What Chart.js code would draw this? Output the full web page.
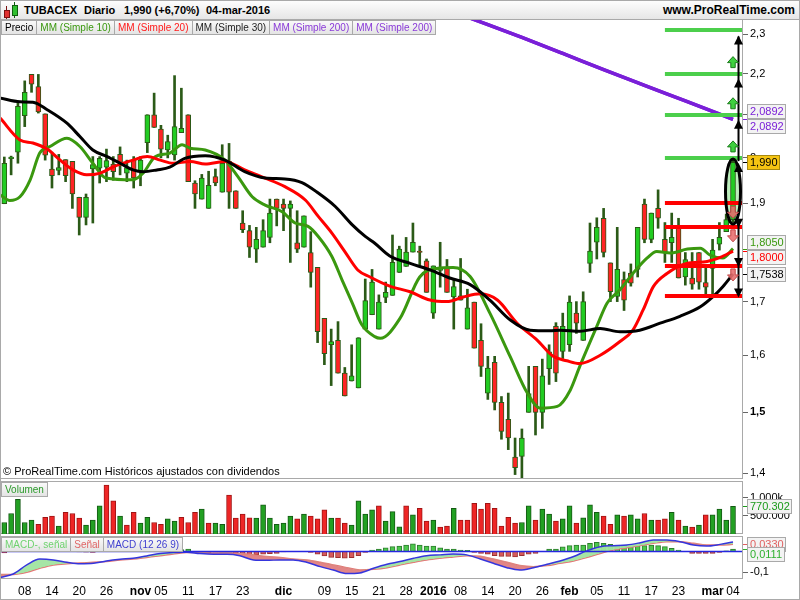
<!DOCTYPE html>
<html lang="es">
<head>
<meta charset="utf-8">
<title>TUBACEX Diario</title>
<script src="https://cdn.jsdelivr.net/npm/chart.js@4.4.1/dist/chart.umd.min.js"></script>
<style>
  html, body { margin: 0; padding: 0; background: #fff; }
  #root { position: relative; width: 800px; height: 600px; overflow: hidden;
          font-family: "Liberation Sans", Arial, sans-serif; color: #000; }
  .frame { position: absolute; box-sizing: border-box; border: 1px solid #a9a9a9; }
  canvas { position: absolute; left: 0; }
  .hdr { position: absolute; left: 0; top: 0; width: 800px; height: 20px; box-sizing: border-box;
         border: 1px solid #a9a9a9; background: linear-gradient(#fdfdfd, #e6e6e6); z-index: 3; }
  .hdr span { position: absolute; top: 3px; font-weight: bold; font-size: 11px; white-space: nowrap; }
  .hdr .site { font-size: 12px; top: 2px; right: 4px; }
  .ico { position: absolute; box-sizing: border-box; }
  .tags { position: absolute; display: flex; z-index: 3; }
  .tag { height: 15px; line-height: 14px; box-sizing: border-box; border: 1px solid #a9a9a9;
         background: linear-gradient(#f9f9f9, #e4e4e4); padding: 0 3px; margin-right: -1px;
         white-space: nowrap; font-size: 10px; }
  .note { position: absolute; font-size: 11px; white-space: nowrap; z-index: 3; }
</style>
</head>
<body>
<div id="root">
  <div class="frame" style="left:0;top:0;width:800px;height:600px;"></div>
  <div class="frame" style="left:0;top:19px;width:743px;height:460px;"></div>
  <div class="frame" style="left:0;top:481px;width:743px;height:53px;"></div>
  <div class="frame" style="left:0;top:536px;width:743px;height:43px;"></div>

  <canvas id="cPrice" width="800" height="458" style="top:20px"></canvas>
  <canvas id="cVol" width="800" height="52" style="top:482px"></canvas>
  <canvas id="cMacd" width="800" height="63" style="top:537px"></canvas>

  <div class="hdr">
    <div class="ico" style="left:5px;top:5px;width:1px;height:13px;background:#7a1010"></div>
    <div class="ico" style="left:3px;top:9px;width:6px;height:8px;background:#e03030;border:1px solid #7a1010"></div>
    <div class="ico" style="left:13px;top:1px;width:1px;height:16px;background:#0f5f0f"></div>
    <div class="ico" style="left:11px;top:4px;width:6px;height:11px;background:#30c030;border:1px solid #0f5f0f"></div>
    <span style="left:23px">TUBACEX</span>
    <span style="left:83px">Diario</span>
    <span id="quote" style="left:123px"></span>
    <span style="left:205px">04-mar-2016</span>
    <span class="site">www.ProRealTime.com</span>
  </div>

  <div class="tags" style="left:1px;top:20px;">
    <span class="tag">Precio</span>
    <span class="tag" style="color:#3a980f">MM (Simple 10)</span>
    <span class="tag" style="color:#ff1a1a">MM (Simple 20)</span>
    <span class="tag" style="color:#222">MM (Simple 30)</span>
    <span class="tag" style="color:#8a3ad8">MM (Simple 200)</span>
    <span class="tag" style="color:#8a3ad8">MM (Simple 200)</span>
  </div>
  <div class="note" style="left:3px;top:465px;">© ProRealTime.com Históricos ajustados con dividendos</div>
  <div class="tags" style="left:1px;top:482px;"><span class="tag" style="color:#2b9a2b">Volumen</span></div>
  <div class="tags" style="left:1px;top:537px;">
    <span class="tag" style="color:#6fd36f">MACD-, señal</span>
    <span class="tag" style="color:#e06666">Señal</span>
    <span class="tag" style="color:#4040d0">MACD (12 26 9)</span>
  </div>
</div>

<script>
// ---- TUBACEX, daily session data 5 Oct 2015 – 4 Mar 2016 (108 sessions) ----
const opens = [
  1.899,1.998,2.013,2.098,2.198,2.168,2.102,1.975,1.972,1.996,
  1.992,1.913,1.870,1.975,1.977,1.979,1.986,2.008,1.966,1.995,
  1.969,2.035,2.100,2.066,2.018,2.007,2.058,2.100,1.944,1.909,
  1.889,1.958,1.924,1.992,1.927,1.858,1.842,1.804,1.808,1.828,
  1.909,1.898,1.889,1.817,1.808,1.797,1.767,1.668,1.619,1.627,
  1.568,1.554,1.542,1.648,1.675,1.648,1.708,1.712,1.757,1.769,
  1.798,1.800,1.780,1.678,1.761,1.767,1.709,1.711,1.648,1.699,
  1.627,1.533,1.587,1.517,1.488,1.426,1.427,1.500,1.580,1.500,
  1.576,1.653,1.607,1.619,1.678,1.627,1.775,1.818,1.868,1.776,
  1.710,1.743,1.756,1.763,1.898,1.824,1.889,1.824,1.817,1.849,
  1.748,1.746,1.797,1.737,1.765,1.814,1.840,1.865
];
const highs = [
  2.002,2.004,2.130,2.182,2.198,2.198,2.102,2.013,2.008,1.996,
  1.992,1.913,1.920,2.003,2.003,2.020,2.003,2.025,1.995,2.003,
  2.003,2.100,2.152,2.075,2.052,2.195,2.164,2.100,1.949,1.963,
  1.970,1.975,2.030,2.033,1.927,1.884,1.853,1.849,1.865,1.909,
  1.909,1.909,1.905,1.884,1.873,1.840,1.767,1.668,1.648,1.662,
  1.578,1.619,1.632,1.744,1.763,1.713,1.738,1.833,1.810,1.828,
  1.858,1.810,1.784,1.770,1.818,1.783,1.745,1.785,1.724,1.699,
  1.658,1.598,1.598,1.527,1.533,1.457,1.472,1.580,1.580,1.593,
  1.619,1.660,1.678,1.711,1.700,1.719,1.858,1.869,1.889,1.776,
  1.849,1.758,1.774,1.849,1.909,1.879,1.929,1.859,1.879,1.868,
  1.797,1.797,1.797,1.769,1.824,1.859,1.877,1.995
];
const lows = [
  1.899,1.962,1.988,2.072,2.154,2.104,1.995,1.933,1.962,1.947,
  1.889,1.833,1.854,1.858,1.944,1.947,1.950,1.962,1.947,1.933,
  1.938,2.012,2.070,2.000,2.000,1.995,2.058,1.947,1.889,1.909,
  1.889,1.938,1.924,1.889,1.889,1.838,1.787,1.777,1.808,1.817,
  1.852,1.842,1.777,1.797,1.808,1.728,1.623,1.583,1.546,1.568,
  1.528,1.554,1.542,1.648,1.675,1.648,1.698,1.712,1.757,1.769,
  1.798,1.771,1.718,1.668,1.728,1.718,1.648,1.703,1.648,1.613,
  1.562,1.522,1.504,1.455,1.438,1.398,1.390,1.500,1.462,1.473,
  1.548,1.553,1.594,1.607,1.640,1.627,1.757,1.784,1.788,1.700,
  1.700,1.683,1.730,1.748,1.817,1.817,1.847,1.777,1.777,1.746,
  1.732,1.724,1.724,1.709,1.709,1.802,1.840,1.860
];
const closes = [
  1.988,2.002,2.120,2.154,2.174,2.107,2.006,1.960,1.978,1.960,
  1.920,1.870,1.913,1.985,1.999,1.994,1.969,1.990,1.978,1.955,
  1.995,2.100,2.070,2.020,2.037,2.072,2.068,1.947,1.920,1.955,
  1.939,1.944,1.988,1.924,1.889,1.844,1.808,1.824,1.842,1.879,
  1.889,1.889,1.898,1.804,1.873,1.757,1.643,1.603,1.625,1.568,
  1.528,1.563,1.632,1.702,1.738,1.699,1.718,1.777,1.804,1.798,
  1.818,1.797,1.718,1.770,1.765,1.718,1.729,1.703,1.688,1.613,
  1.580,1.577,1.517,1.468,1.457,1.409,1.457,1.532,1.500,1.563,
  1.606,1.568,1.653,1.699,1.659,1.700,1.800,1.849,1.797,1.719,
  1.763,1.703,1.736,1.849,1.824,1.879,1.868,1.797,1.828,1.746,
  1.783,1.734,1.738,1.728,1.802,1.828,1.865,1.990
];
const volumes = [
  320000,570000,960000,320000,390000,270000,460000,500000,220000,600000,
  570000,440000,250000,390000,780000,1360000,920000,500000,250000,600000,
  300000,460000,320000,270000,420000,360000,460000,320000,600000,690000,
  300000,300000,270000,1080000,440000,550000,450000,440000,810000,440000,
  270000,300000,500000,420000,550000,500000,420000,670000,440000,440000,
  300000,250000,920000,550000,670000,780000,360000,620000,200000,780000,
  530000,710000,360000,390000,190000,220000,710000,390000,390000,850000,
  690000,850000,710000,220000,460000,300000,320000,780000,390000,690000,
  550000,360000,420000,780000,300000,450000,810000,600000,500000,270000,
  530000,500000,530000,420000,570000,390000,390000,420000,600000,390000,
  220000,190000,250000,530000,530000,690000,390000,770302
];

// Simple moving averages, sampled along the session axis
const ma10Idx = [-0.6,0.8,2.3,3.8,5.2,6.7,9.2,11.1,13.0,14.9,18.9,20.4,22.1,24.3,26.1,27.3,29.5,32.4,34.3,36.4,
  38.3,40.8,42.7,44.6,46.1,48.1,49.6,51.1,52.5,54.4,55.2,58.1,61.0,63.5,65.9,68.4,71.3,74.3,76.8,78.7,
  81.2,83.1,84.5,87.0,88.5,90.4,92.3,94.4,95.8,97.8,100.3,102.2,103.6,105.5,107];
const ma10 = [1.918,1.906,1.914,1.951,2.011,2.026,2.045,2.026,1.988,1.955,1.951,1.966,2.002,2.011,2.030,2.022,2.018,1.995,1.958,1.914,
  1.896,1.882,1.858,1.851,1.830,1.789,1.742,1.697,1.656,1.634,1.631,1.668,1.748,1.765,1.767,1.749,1.678,1.597,1.533,1.507,
  1.510,1.538,1.580,1.653,1.697,1.723,1.755,1.786,1.799,1.796,1.804,1.806,1.792,1.786,1.805];
const ma20Idx = [-0.6,2.3,4.2,6.3,8.2,10.1,12.1,14.1,16.0,18.9,21.0,22.9,24.8,27.3,29.5,32.4,35.3,38.3,41.2,44.2,
  46.1,48.1,50.0,51.9,53.7,56.6,59.6,62.5,65.0,67.4,69.9,72.4,75.3,78.2,80.6,82.6,84.5,87.5,90.4,92.3,
  93.8,95.3,97.3,100.2,103.2,105.1,107];
const ma20 = [2.092,2.041,2.034,2.020,1.995,1.973,1.962,1.966,1.980,1.995,2.003,1.995,1.988,1.992,1.986,1.992,1.973,1.955,1.936,1.907,
  1.872,1.837,1.799,1.762,1.748,1.730,1.719,1.703,1.700,1.709,1.715,1.703,1.659,1.628,1.598,1.590,1.585,1.600,1.625,1.646,
  1.684,1.729,1.755,1.775,1.779,1.787,1.800];
const ma30Idx = [-0.6,2.3,4.2,6.3,9.2,11.1,13.0,15.1,17.0,18.9,20.4,22.4,24.3,26.5,29.5,32.4,35.3,38.3,41.2,43.7,
  46.1,48.6,51.1,53.0,54.4,56.6,59.6,62.5,65.4,68.4,71.3,74.3,77.2,80.1,81.6,84.5,87.5,90.4,93.3,96.3,
  99.2,102.2,104.1,105.5,107];
const ma30 = [2.140,2.131,2.130,2.112,2.080,2.049,2.018,2.003,1.988,1.973,1.969,1.973,1.979,1.999,2.005,1.995,1.969,1.955,1.953,1.945,
  1.922,1.893,1.854,1.830,1.816,1.790,1.775,1.762,1.746,1.733,1.703,1.665,1.646,1.645,1.646,1.644,1.649,1.643,1.646,1.659,
  1.672,1.690,1.710,1.729,1.7538];
const ma200Idx = [64,70,76,82,88,94,100,107];
const ma200 = [2.372,2.332,2.292,2.251,2.210,2.171,2.133,2.0892];

// MACD (12 26 9)
const macdIdx = [-0.6,1.3,3.3,5.2,7.2,9.2,11.1,13.1,15.0,17.0,18.9,20.9,22.9,24.8,26.8,28.7,30.7,32.7,34.6,36.6,
  38.5,40.5,42.4,44.4,46.4,48.3,50.3,52.2,54.2,56.2,58.1,60.1,62.0,64.0,65.9,67.9,69.9,71.8,73.8,75.7,
  77.7,79.7,81.6,83.6,85.5,87.5,89.4,91.4,93.4,95.3,97.3,99.2,101.2,103.1,105.1,107];
const macdLine = [-0.125,-0.108,-0.065,-0.037,-0.041,-0.052,-0.059,-0.057,-0.046,-0.038,-0.033,-0.022,-0.011,-0.006,-0.005,-0.011,-0.014,-0.014,-0.021,-0.041,
  -0.043,-0.041,-0.041,-0.052,-0.073,-0.089,-0.106,-0.103,-0.081,-0.062,-0.049,-0.033,-0.021,-0.017,-0.013,-0.017,-0.037,-0.057,-0.078,-0.089,
  -0.078,-0.062,-0.046,-0.025,0.002,0.022,0.027,0.030,0.041,0.054,0.054,0.046,0.030,0.025,0.033,0.0441];
const signalLine = [-0.110,-0.110,-0.100,-0.081,-0.065,-0.059,-0.056,-0.052,-0.049,-0.041,-0.037,-0.029,-0.021,-0.013,-0.006,-0.006,-0.008,-0.006,-0.011,-0.017,
  -0.025,-0.030,-0.037,-0.041,-0.052,-0.065,-0.078,-0.089,-0.086,-0.078,-0.065,-0.052,-0.041,-0.033,-0.027,-0.021,-0.024,-0.037,-0.052,-0.068,
  -0.073,-0.068,-0.057,-0.046,-0.030,-0.010,0.006,0.017,0.027,0.038,0.046,0.046,0.038,0.030,0.030,0.033];
const histogram = [
  -0.008,0.000,0.020,0.035,0.040,0.044,0.035,0.024,0.015,0.007,
  0.000,-0.003,-0.004,-0.005,-0.002,0.003,0.003,0.003,0.004,0.004,
  0.006,0.007,0.009,0.010,0.008,0.006,0.008,0.011,-0.006,-0.006,
  -0.006,-0.004,-0.004,-0.006,-0.011,-0.014,-0.017,-0.017,-0.014,-0.011,
  -0.010,-0.003,-0.002,-0.001,-0.002,-0.005,-0.014,-0.022,-0.029,-0.030,
  -0.033,-0.030,-0.021,-0.005,0.006,0.011,0.017,0.022,0.025,0.030,
  0.035,0.030,0.025,0.025,0.017,0.011,0.011,0.006,0.005,-0.005,
  -0.010,-0.014,-0.021,-0.024,-0.024,-0.027,-0.021,-0.014,-0.010,-0.002,
  0.011,0.011,0.021,0.027,0.030,0.030,0.038,0.043,0.038,0.033,
  0.030,0.030,0.027,0.027,0.027,0.030,0.027,0.022,0.014,0.006,
  -0.002,-0.010,-0.010,-0.010,-0.010,-0.005,0.002,0.0111
];

// Axis labels
const tickIdx  = [3,7,11,15,20,23,27,31,35,41,47,51,55,59,63,67,71,75,79,83,87,91,95,99,104,107];
const tickText = ['08','14','20','26','nov','05','11','17','23','dic','09','15','21','28','2016','08','14','20','26','feb','05','11','17','23','mar','04'];
const boldTicks = ['nov','dic','2016','feb','mar'];
const priceTicks = [1.4,1.5,1.6,1.7,1.8,1.9,2,2.1,2.2,2.3];
const volumeTicks = [500000,1000000];
const macdTicks = [-0.1];

// Drawn objective / stop levels on the right of the price panel
const targetLevels = [2.0,2.1,2.2,2.31];
const stopLevels = [1.90,1.85,1.77,1.71];
const levelFromIdx = 97;

// ---- rendering ----
const FONT = '"Liberation Sans", Arial, sans-serif';
Chart.defaults.font.family = FONT;
const X_MIN = -0.485, X_MAX = 108.32, AXIS_W = 58;
const last = closes.length - 1;
const DARK = '#2b5a17';

const fmtDec = (v, d) => v.toFixed(d).replace('.', ',');
const fmtThousands = v => Math.round(v).toString().replace(/\B(?=(\d{3})+(?!\d))/g, '.');
const pts = (xs, ys) => xs.map((x, k) => ({ x, y: ys[k] }));
const noPad = s => { s.paddingTop = 0; s.paddingBottom = 0; s.paddingLeft = 0; s.paddingRight = 0; };

document.getElementById('quote').textContent =
  fmtDec(closes[last], 3) + ' (+' + fmtDec((closes[last] / closes[last - 1] - 1) * 100, 2) + '%)';

// boxed value tags on the right axis
const valueTags = {
  id: 'valueTags',
  afterDraw(chart, args, opts) {
    const { ctx, chartArea } = chart;
    const ys = chart.scales.y;
    const items = opts.items.map(t => Object.assign({}, t, { y0: ys.getPixelForValue(t.value) }));
    items.forEach(t => { t.y = t.y0; });
    if (opts.mode === 'push') {
      for (let k = 1; k < items.length; k++) items[k].y = Math.max(items[k].y0, items[k - 1].y + opts.gap);
    } else {
      items.sort((a, b) => a.y0 - b.y0);
      const groups = [];
      items.forEach(t => {
        const g = groups[groups.length - 1];
        if (g && t.y0 - g[g.length - 1].y0 < opts.gap) g.push(t); else groups.push([t]);
      });
      groups.forEach(g => {
        const mean = g.reduce((s, t) => s + t.y0, 0) / g.length;
        g.forEach((t, k) => { t.y = mean + (k - (g.length - 1) / 2) * opts.gap; });
      });
    }
    ctx.save();
    ctx.font = '11px ' + FONT;
    items.forEach(t => {
      const ym = Math.round(t.y0) + 0.5;
      ctx.strokeStyle = t.color; ctx.lineWidth = 1;
      ctx.beginPath(); ctx.moveTo(chartArea.right + 1, ym); ctx.lineTo(chartArea.right + 5, ym); ctx.stroke();
      const w = Math.ceil(ctx.measureText(t.text).width) + 5;
      const x = chartArea.right + 5, y = Math.round(t.y - 7.5);
      ctx.fillStyle = t.bg || '#f3f3f3'; ctx.fillRect(x, y, w, 15);
      ctx.strokeStyle = t.border || '#a9a9a9'; ctx.strokeRect(x + 0.5, y + 0.5, w - 1, 14);
      ctx.fillStyle = t.color; ctx.textBaseline = 'middle'; ctx.textAlign = 'left';
      ctx.fillText(t.text, x + 3, y + 8);
    });
    ctx.restore();
  }
};

function blockArrow(ctx, cx, yBase, yTip, fill, stroke) {
  const dir = yTip < yBase ? -1 : 1;
  const len = Math.abs(yTip - yBase), head = Math.min(6, len * 0.55), sw = 2.2, hw = 5.5;
  const yNeck = yTip - dir * head;
  ctx.beginPath();
  ctx.moveTo(cx - sw, yBase); ctx.lineTo(cx - sw, yNeck); ctx.lineTo(cx - hw, yNeck); ctx.lineTo(cx, yTip);
  ctx.lineTo(cx + hw, yNeck); ctx.lineTo(cx + sw, yNeck); ctx.lineTo(cx + sw, yBase); ctx.closePath();
  ctx.fillStyle = fill; ctx.fill();
  ctx.strokeStyle = stroke; ctx.lineWidth = 1; ctx.stroke();
}
function arrowHead(ctx, cx, yTip, dir) {
  ctx.beginPath();
  ctx.moveTo(cx, yTip); ctx.lineTo(cx - 4.5, yTip - dir * 9); ctx.lineTo(cx + 4.5, yTip - dir * 9); ctx.closePath();
  ctx.fill();
}

// objective / stop drawings around the last session
const drawings = {
  id: 'drawings',
  beforeDatasetsDraw(chart) {
    const { ctx, scales: { x, y } } = chart;
    const top = y.getPixelForValue(highs[last]) - 1, bot = y.getPixelForValue(lows[last]) + 2;
    ctx.save();
    ctx.fillStyle = 'rgba(185,236,185,0.95)';
    ctx.beginPath(); ctx.ellipse(x.getPixelForValue(last), (top + bot) / 2, 7.5, (bot - top) / 2, 0, 0, Math.PI * 2); ctx.fill();
    ctx.restore();
  },
  afterDatasetsDraw(chart) {
    const { ctx, chartArea: a, scales: { x, y } } = chart;
    const xs = x.getPixelForValue(levelFromIdx), xc = x.getPixelForValue(last);
    const top = y.getPixelForValue(highs[last]) - 1, bot = y.getPixelForValue(lows[last]) + 2;
    ctx.save();
    ctx.lineWidth = 4;
    ctx.strokeStyle = '#4ccf4c';
    targetLevels.forEach(v => { const py = Math.round(y.getPixelForValue(v)); ctx.beginPath(); ctx.moveTo(xs, py); ctx.lineTo(a.right, py); ctx.stroke(); });
    ctx.strokeStyle = '#ff0000';
    stopLevels.forEach(v => { const py = Math.round(y.getPixelForValue(v)); ctx.beginPath(); ctx.moveTo(xs, py); ctx.lineTo(a.right, py); ctx.stroke(); });

    // ring around the last session
    ctx.strokeStyle = '#000'; ctx.lineWidth = 3;
    ctx.beginPath(); ctx.ellipse(xc, (top + bot) / 2, 7.5, (bot - top) / 2, 0, 0, Math.PI * 2); ctx.stroke();

    // black arrows to objectives and stops
    const ax = xc + 5.5;
    const ups = targetLevels.filter(v => v > highs[last]);
    const downs = stopLevels.filter(v => v < lows[last]);
    ctx.lineWidth = 2; ctx.strokeStyle = '#000'; ctx.fillStyle = '#000';
    ctx.beginPath(); ctx.moveTo(ax, top + 2); ctx.lineTo(ax, y.getPixelForValue(Math.max(...ups)) + 6); ctx.stroke();
    ups.forEach(v => arrowHead(ctx, ax, y.getPixelForValue(v) + 5, -1));
    ctx.beginPath(); ctx.moveTo(ax, bot - 2); ctx.lineTo(ax, y.getPixelForValue(Math.min(...downs)) - 2); ctx.stroke();
    downs.forEach(v => arrowHead(ctx, ax, y.getPixelForValue(v) + 1, 1));

    // small up / down markers
    targetLevels.filter(v => v < Math.max(...targetLevels)).forEach(v => {
      const py = y.getPixelForValue(v);
      blockArrow(ctx, xc, py - 6, py - 17, '#3fd03f', '#1c7a1c');
    });
    stopLevels.filter(v => v > Math.min(...stopLevels)).forEach(v => {
      const py = y.getPixelForValue(v);
      blockArrow(ctx, xc, py + 3, py + 15, 'rgba(232,112,112,0.9)', '#c04848');
    });
    ctx.restore();
  }
};

const zeroLine = {
  id: 'zeroLine',
  afterDatasetsDraw(chart) {
    const { ctx, chartArea: a, scales: { y } } = chart;
    const py = Math.round(y.getPixelForValue(0)) + 0.5;
    ctx.save(); ctx.strokeStyle = '#2626e0'; ctx.lineWidth = 1.5;
    ctx.beginPath(); ctx.moveTo(a.left, py); ctx.lineTo(a.right, py); ctx.stroke(); ctx.restore();
  }
};

const base = {
  responsive: false, animation: false, events: [],
  layout: { padding: { left: 1, right: 0, top: 0, bottom: 0 } }
};
const hiddenX = { type: 'linear', min: X_MIN, max: X_MAX, display: false, offset: false };
const rightAxis = (extra) => Object.assign({
  position: 'right',
  afterFit: s => { s.width = AXIS_W; noPad(s); },
  grid: { drawOnChartArea: false, tickLength: 6, color: '#666' },
  border: { display: true, color: '#a9a9a9', width: 1 }
}, extra);
const lineDs = (label, xs, ys, color, width, order) => ({
  type: 'line', label, data: pts(xs, ys), borderColor: color, borderWidth: width,
  pointRadius: 0, cubicInterpolationMode: 'monotone', fill: false, order
});

// price panel
new Chart(document.getElementById('cPrice'), {
  type: 'bar',
  data: {
    datasets: [
      lineDs('MM (Simple 30)', ma30Idx, ma30, '#000000', 3, 0),
      lineDs('MM (Simple 20)', ma20Idx, ma20, '#ff0000', 3, 1),
      lineDs('MM (Simple 10)', ma10Idx, ma10, '#3a980f', 3, 2),
      lineDs('MM (Simple 200)', ma200Idx, ma200, '#7a1fd8', 3.5, 3),
      lineDs('MM (Simple 200)', ma200Idx, ma200, '#7a1fd8', 3.5, 3),
      {
        type: 'bar', label: 'Precio', order: 4, grouped: false,
        data: opens.map((o, i) => ({ x: i, y: [o, closes[i]] })),
        backgroundColor: opens.map((o, i) => closes[i] >= o ? '#22cc22' : '#ff2424'),
        borderColor: DARK, borderWidth: 1, borderSkipped: false, barThickness: 5
      },
      {
        type: 'bar', label: 'Rango', order: 5, grouped: false,
        data: lows.map((l, i) => ({ x: i, y: [l, highs[i]] })),
        backgroundColor: DARK, borderWidth: 0, barThickness: 2
      }
    ]
  },
  options: Object.assign({}, base, {
    scales: {
      x: hiddenX,
      y: rightAxis({
        type: 'logarithmic', min: 1.3926, max: 2.3375,
        afterBuildTicks: s => { s.ticks = priceTicks.map(v => ({ value: v })); },
        ticks: {
          autoSkip: false, padding: 2, color: '#000',
          callback: v => String(v).replace('.', ','),
          font: c => ({ family: FONT, size: 11, weight: c.tick && c.tick.value === 1.5 ? 'bold' : 'normal' })
        }
      })
    },
    plugins: {
      legend: { display: false }, tooltip: { enabled: false },
      valueTags: {
        mode: 'center', gap: 15,
        items: [
          { value: ma200[ma200.length - 1], text: fmtDec(ma200[ma200.length - 1], 4), color: '#7a1fd8' },
          { value: ma200[ma200.length - 1], text: fmtDec(ma200[ma200.length - 1], 4), color: '#7a1fd8' },
          { value: closes[last], text: fmtDec(closes[last], 3), color: '#000', bg: '#f5c412', border: '#a88a10' },
          { value: ma10[ma10.length - 1], text: fmtDec(ma10[ma10.length - 1], 4), color: '#3a980f' },
          { value: ma20[ma20.length - 1], text: fmtDec(ma20[ma20.length - 1], 4), color: '#ff0000' },
          { value: ma30[ma30.length - 1], text: fmtDec(ma30[ma30.length - 1], 4), color: '#000' }
        ]
      }
    }
  }),
  plugins: [drawings, valueTags]
});

// volume panel
new Chart(document.getElementById('cVol'), {
  type: 'bar',
  data: {
    datasets: [{
      label: 'Volumen', grouped: false,
      data: volumes.map((v, i) => ({ x: i, y: v })),
      backgroundColor: closes.map((c, i) => (i === 0 || c >= closes[i - 1]) ? '#22a022' : '#ee2626'),
      borderColor: closes.map((c, i) => (i === 0 || c >= closes[i - 1]) ? '#145a14' : '#a01414'),
      borderWidth: 1, barThickness: 5
    }]
  },
  options: Object.assign({}, base, {
    scales: {
      x: hiddenX,
      y: rightAxis({
        type: 'linear', min: 0, max: 1444000,
        afterBuildTicks: s => { s.ticks = volumeTicks.map(v => ({ value: v })); },
        ticks: {
          autoSkip: false, padding: 2, color: '#000', font: { size: 11 },
          callback: v => v >= 1e6 ? fmtThousands(v / 1000) + 'k' : fmtThousands(v)
        }
      })
    },
    plugins: {
      legend: { display: false }, tooltip: { enabled: false },
      valueTags: {
        mode: 'center', gap: 15,
        items: [{ value: volumes[last], text: fmtThousands(volumes[last]), color: '#1a9a1a' }]
      }
    }
  }),
  plugins: [valueTags]
});

// MACD panel with the date axis
new Chart(document.getElementById('cMacd'), {
  type: 'bar',
  data: {
    datasets: [
      {
        type: 'line', label: 'MACD (12 26 9)', order: 0, data: pts(macdIdx, macdLine),
        borderColor: '#3535dd', borderWidth: 1.5, pointRadius: 0, cubicInterpolationMode: 'monotone',
        fill: { target: 1, above: 'rgba(160,228,160,0.95)', below: 'rgba(224,128,128,0.95)' }
      },
      {
        type: 'line', label: 'Señal', order: 1, data: pts(macdIdx, signalLine),
        borderColor: '#e57575', borderWidth: 1.5, pointRadius: 0, cubicInterpolationMode: 'monotone', fill: false
      },
      {
        type: 'bar', label: 'MACD-, señal', order: 2, grouped: false,
        data: histogram.map((v, i) => ({ x: i, y: v })),
        backgroundColor: histogram.map(v => v >= 0 ? '#4cc84c' : '#d65c5c'),
        borderColor: histogram.map(v => v >= 0 ? '#2e7d2e' : '#9c3030'),
        borderWidth: 1, barThickness: 5
      }
    ]
  },
  options: Object.assign({}, base, {
    scales: {
      x: {
        type: 'linear', min: X_MIN, max: X_MAX, offset: false, position: 'bottom',
        afterBuildTicks: s => { s.ticks = tickIdx.map(v => ({ value: v })); },
        afterFit: s => { s.height = 22; noPad(s); },
        grid: { display: false, drawTicks: false },
        border: { display: false },
        ticks: {
          autoSkip: false, maxRotation: 0, minRotation: 0, padding: 6, color: '#000',
          callback: (v, i) => tickText[i],
          font: c => ({ family: FONT, size: 12, weight: boldTicks.includes(tickText[c.index]) ? 'bold' : 'normal' })
        }
      },
      y: rightAxis({
        type: 'linear', min: -0.1271, max: 0.0681,
        afterBuildTicks: s => { s.ticks = macdTicks.map(v => ({ value: v })); },
        ticks: { autoSkip: false, padding: 2, color: '#000', font: { size: 11 }, callback: v => fmtDec(v, 1) }
      })
    },
    plugins: {
      legend: { display: false }, tooltip: { enabled: false },
      valueTags: {
        mode: 'push', gap: 10,
        items: [
          { value: signalLine[signalLine.length - 1], text: fmtDec(signalLine[signalLine.length - 1], 4), color: '#e06060' },
          { value: histogram[last], text: fmtDec(histogram[last], 4), color: '#2fb02f' }
        ]
      }
    }
  }),
  plugins: [zeroLine, valueTags]
});
</script>
</body>
</html>
